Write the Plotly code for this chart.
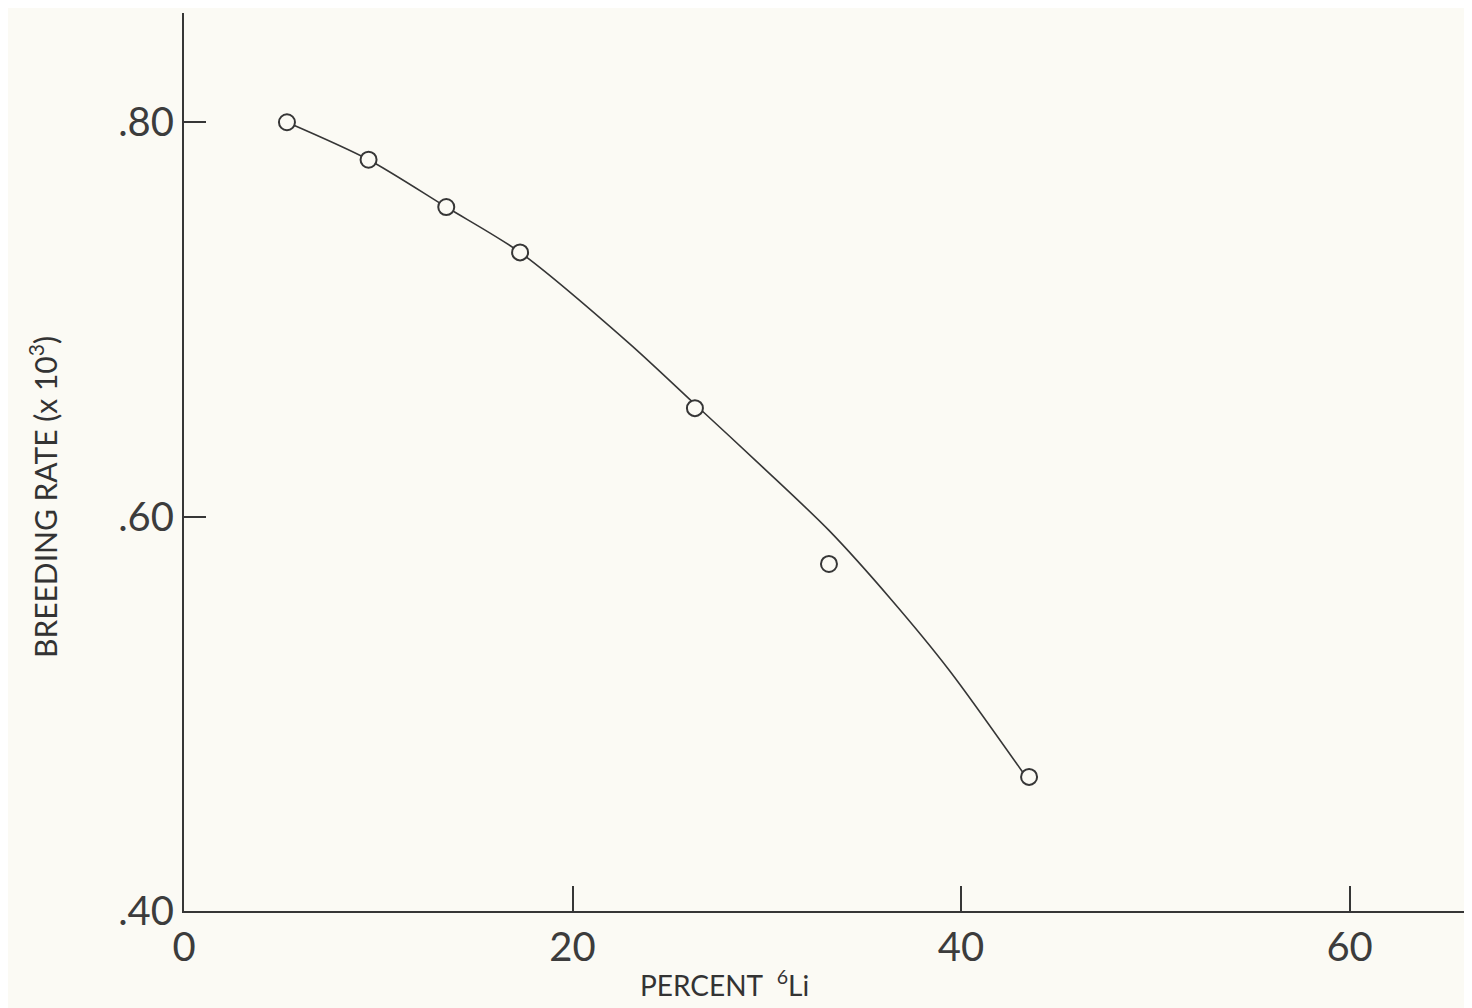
import plotly.graph_objects as go

# Measured points (percent 6Li, breeding rate x 10^3)
pct_li6 = [5.3, 9.5, 13.5, 17.3, 26.3, 33.2, 43.5]
breeding_rate = [0.800, 0.781, 0.757, 0.734, 0.655, 0.576, 0.468]

# Hand-drawn smooth curve
curve_x = [5.3, 9.5, 13.5, 17.3, 22.9, 26.3, 29.8, 33.2, 36.4, 39.4, 43.2]
curve_y = [0.800, 0.781, 0.757, 0.734, 0.688, 0.657, 0.625, 0.593, 0.558, 0.522, 0.470]

x_ticks = [0, 20, 40, 60]
x_tick_labels = ["0", "20", "40", "60"]
y_ticks = [0.40, 0.60, 0.80]
y_tick_labels = [".40", ".60", ".80"]

bg = "#fbfaf4"
ink = "#363636"

fig = go.Figure()
fig.add_trace(go.Scatter(x=curve_x, y=curve_y, mode="lines",
                         line=dict(color=ink, width=1.6, shape="spline", smoothing=0.8),
                         hoverinfo="skip", showlegend=False))
fig.add_trace(go.Scatter(x=pct_li6, y=breeding_rate, mode="markers",
                         marker=dict(symbol="circle", size=16, color=bg,
                                     line=dict(color=ink, width=2)),
                         showlegend=False))

tick_font = dict(family="Lato, 'Open Sans', sans-serif", size=40, color="#3c3c3c")
xtitle_font = dict(family="Lato, 'Noto Sans', sans-serif", size=28, color="#333333")
ytitle_font = dict(family="Lato, 'Noto Sans', sans-serif", size=30, color="#333333")

fig.update_xaxes(range=[0, 66.3], showline=True, linecolor=ink, linewidth=2,
                 showgrid=False, zeroline=False, ticks="inside", ticklen=25,
                 tickwidth=2, tickcolor=ink, tickvals=x_ticks, ticktext=x_tick_labels,
                 tickfont=tick_font)
fig.update_yaxes(range=[0.40, 0.8554], showline=True, linecolor=ink, linewidth=2,
                 showgrid=False, zeroline=False, ticks="inside", ticklen=22,
                 tickwidth=2, tickcolor=ink, tickvals=y_ticks, ticktext=y_tick_labels,
                 tickfont=tick_font)

# page body has an 8px margin; size the figure so the plot area lands where the reference has it
fig.update_layout(
    width=1464, height=1000,
    margin=dict(l=176, r=0, t=5, b=97),
    paper_bgcolor=bg, plot_bgcolor=bg,
    annotations=[
        dict(text="PERCENT  <sup>6</sup>Li", xref="paper", yref="paper",
             x=(724 - 184) / 1288, y=-(984 - 911) / 898, xanchor="center", yanchor="middle",
             showarrow=False, font=xtitle_font),
        dict(text="BREEDING RATE (x 10<sup>3</sup>)", xref="paper", yref="paper",
             x=-(184 - 43) / 1288, y=(911 - 497) / 898, textangle=-90,
             xanchor="center", yanchor="middle", showarrow=False, font=ytitle_font),
    ],
)

fig.write_html("out.html")
